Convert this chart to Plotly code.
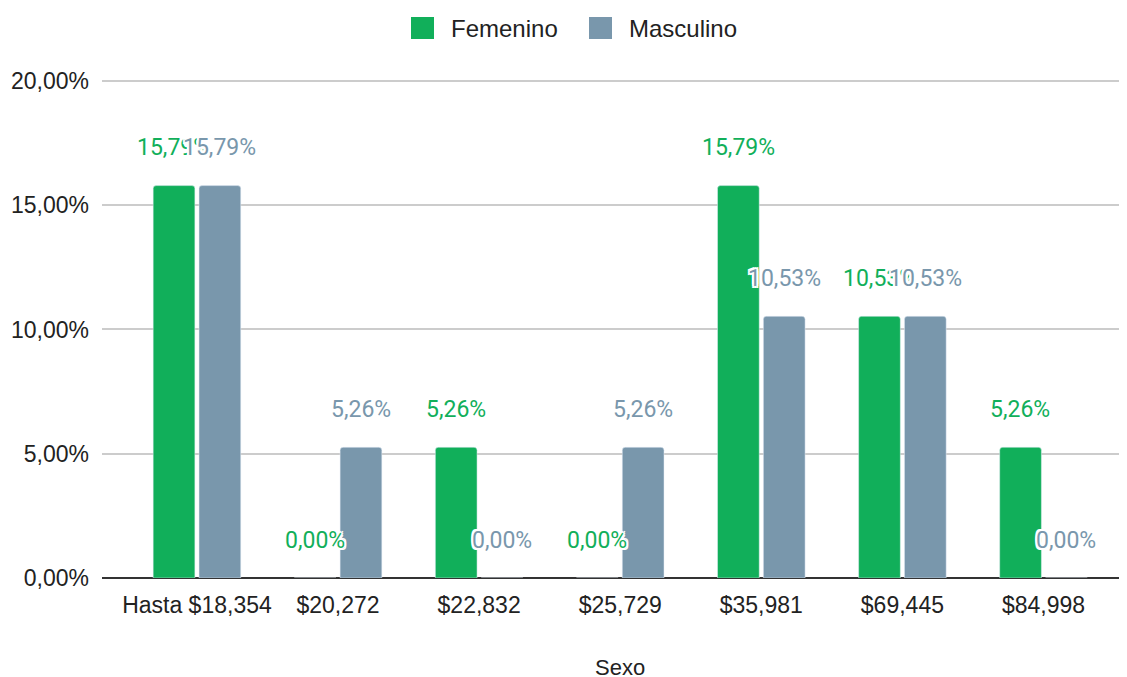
import plotly.graph_objects as go

categories = ["Hasta $18,354", "$20,272", "$22,832", "$25,729", "$35,981", "$69,445", "$84,998"]
femenino = [15.79, 0.00, 5.26, 0.00, 15.79, 10.53, 5.26]
masculino = [15.79, 5.26, 0.00, 5.26, 10.53, 10.53, 0.00]
y_ticks = [0, 5, 10, 15, 20]
y_tick_labels = ["0,00%", "5,00%", "10,00%", "15,00%", "20,00%"]

GREEN = "#11af5a"
GREY = "#7997ac"
AX_FONT = "Liberation Sans, Arial, sans-serif"
LBL_FONT = "Roboto, sans-serif"

fig = go.Figure()
fig.add_bar(x=categories, y=femenino, name="Femenino", marker_color=GREEN, showlegend=False)
fig.add_bar(x=categories, y=masculino, name="Masculino", marker_color=GREY, showlegend=False)

halo = "2px 0 0 white, -2px 0 0 white, 0 2px 0 white, 0 -2px 0 white, 2px 2px 0 white, -2px -2px 0 white, 2px -2px 0 white, -2px 2px 0 white"

def fmt(v):
    return f"{v:.2f}".replace(".", ",") + "%"

for vals, color, shift in [(femenino, GREEN, -23), (masculino, GREY, 23)]:
    for c, v in zip(categories, vals):
        fig.add_annotation(x=c, y=v, text=fmt(v), showarrow=False, xshift=shift, yshift=38,
                           xanchor="center", yanchor="middle",
                           font=dict(family=LBL_FONT, size=23, color=color, shadow=halo))

# custom legend (positions in page pixels relative to plot area 102..1127 x 76..578)
PX0, PW, PY0, PH = 102, 1025, 76, 502
for x0, color, label in [(411, GREEN, "Femenino"), (589, GREY, "Masculino")]:
    fig.add_shape(type="rect", xref="paper", yref="paper",
                  x0=(x0 - PX0) / PW, x1=(x0 + 23 - PX0) / PW,
                  y0=(PY0 + PH - 39) / PH, y1=(PY0 + PH - 17) / PH,
                  fillcolor=color, line=dict(width=0))
    fig.add_annotation(xref="paper", yref="paper", x=(x0 + 38 - PX0) / PW, y=(PY0 + PH - 28) / PH,
                       text=label, showarrow=False, xanchor="left", yanchor="middle",
                       font=dict(family=AX_FONT, size=24, color="#222222"))

# x-axis title "Sexo" placed below the tick labels
fig.add_annotation(xref="paper", yref="paper", x=(620 - PX0) / PW, y=(PY0 + PH - 667) / PH,
                   text="Sexo", showarrow=False, xanchor="center", yanchor="middle",
                   borderpad=0, borderwidth=0,
                   font=dict(family=AX_FONT, size=22, color="#222222"))

fig.update_layout(
    width=1119, height=669,
    margin=dict(l=94, r=0, t=68, b=99),
    barmode="group", bargap=0.35, bargroupgap=0.09, barcornerradius=3,
    plot_bgcolor="white", paper_bgcolor="white",
    font=dict(family=AX_FONT, size=23, color="#222222"),
)
fig.update_xaxes(range=[-0.673, 6.592], showgrid=False, showline=False, ticks="",
                 tickfont=dict(size=23, color="#222222"), ticklabelstandoff=11, automargin=False)
fig.update_yaxes(range=[0, 20.2], tickvals=y_ticks, ticktext=y_tick_labels, showgrid=True,
                 gridcolor="#cccccc", gridwidth=1.5, zeroline=True, zerolinecolor="#333333", zerolinewidth=1.5,
                 showline=False, ticks="", tickfont=dict(size=23, color="#222222"), ticklabelstandoff=12)

fig.write_html("out.html")
